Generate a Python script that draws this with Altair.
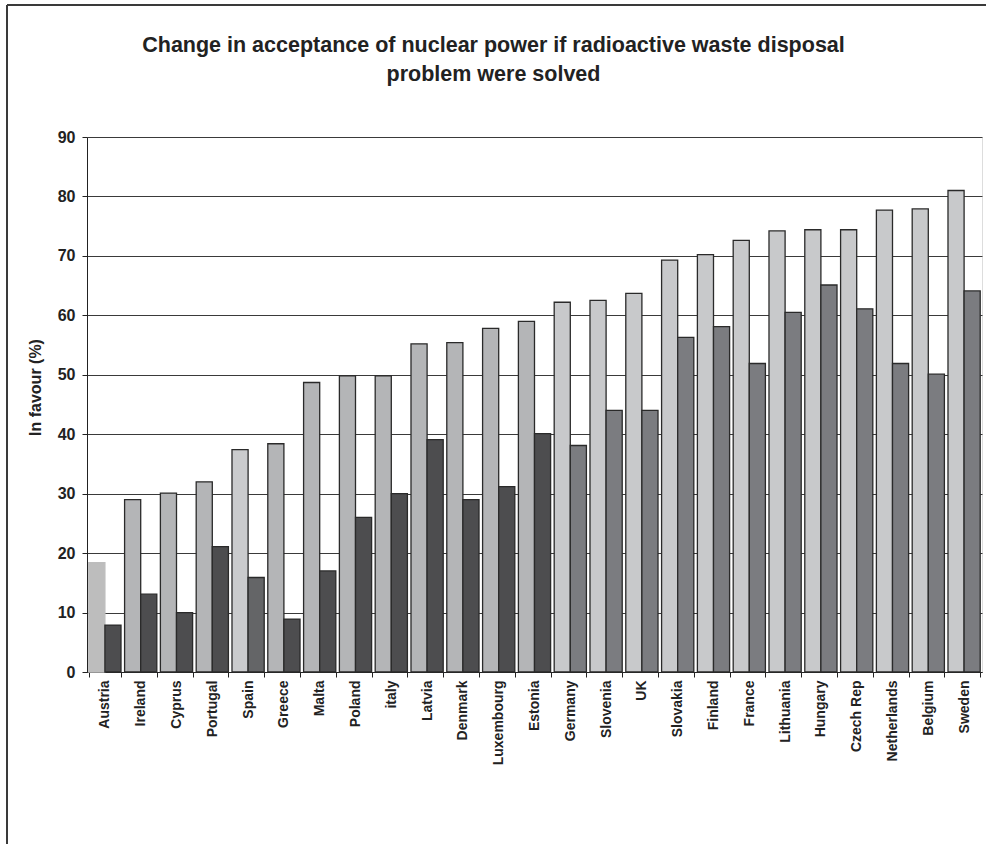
import altair as alt
import pandas as pd

# Countries, ordered by share in favour if the waste problem were solved
countries = [
    "Austria", "Ireland", "Cyprus", "Portugal", "Spain", "Greece", "Malta",
    "Poland", "italy", "Latvia", "Denmark", "Luxembourg", "Estonia",
    "Germany", "Slovenia", "UK", "Slovakia", "Finland", "France",
    "Lithuania", "Hungary", "Czech Rep", "Netherlands", "Belgium", "Sweden",
]
# % in favour if the radioactive waste disposal problem were solved
if_solved = [18.4, 29.0, 30.1, 32.0, 37.4, 38.4, 48.7, 49.8, 49.8, 55.2,
             55.4, 57.8, 59.0, 62.2, 62.5, 63.7, 69.3, 70.2, 72.6, 74.2,
             74.4, 74.4, 77.7, 77.9, 81.0]
# % in favour at present
currently = [7.9, 13.1, 10.0, 21.1, 15.9, 8.9, 17.0, 26.0, 30.0, 39.1,
             29.0, 31.2, 40.1, 38.1, 44.0, 44.0, 56.3, 58.1, 51.9, 60.5,
             65.1, 61.1, 51.9, 50.1, 64.1]

series = ["If solved", "Currently"]

# Shading per country group: (light bar, dark bar, light outline)
group_of = {c: "A" for c in countries}
group_of["Austria"] = "B"
group_of["Spain"] = "C"
for c in countries[13:]:
    group_of[c] = "D"
shades = {
    "A": ("#b4b5b7", "#4d4d4f", "#2a2a2a"),
    "B": ("#bdbdbd", "#4d4d4f", "#bdbdbd"),
    "C": ("#cacbcd", "#646567", "#2a2a2a"),
    "D": ("#c8c9cb", "#7b7c80", "#2a2a2a"),
}

rows = []
for c, a, b in zip(countries, if_solved, currently):
    light, dark, edge = shades[group_of[c]]
    rows.append({"country": c, "series": series[0], "value": a,
                 "fill": light, "edge": edge})
    rows.append({"country": c, "series": series[1], "value": b,
                 "fill": dark, "edge": "#2a2a2a"})
df = pd.DataFrame(rows)

FONT = "Liberation Sans"

bars = alt.Chart(df).mark_bar(strokeWidth=1.3).encode(
    x=alt.X("country:N", sort=countries,
            scale=alt.Scale(paddingInner=0.1, paddingOuter=0.05),
            axis=alt.Axis(title=None, labelAngle=-90, labelFontSize=14,
                          labelFont=FONT, labelFontWeight="bold",
                          labelColor="#222", labelPadding=3,
                          tickBand="extent", tickSize=5, tickColor="#222",
                          domainColor="#222", grid=False)),
    xOffset=alt.XOffset("series:N", sort=series,
                        scale=alt.Scale(paddingInner=0, paddingOuter=0)),
    y=alt.Y("value:Q",
            scale=alt.Scale(domain=[0, 90], nice=False),
            axis=alt.Axis(title="In favour (%)", values=list(range(0, 91, 10)),
                          titleFont=FONT, titleFontSize=16,
                          titleFontWeight="bold", titleColor="#222",
                          titleAngle=-90, titleX=-52, titleY=250,
                          titleAlign="center", titleBaseline="middle",
                          labelFont=FONT, labelFontSize=16,
                          labelFontWeight="bold", labelColor="#222",
                          labelPadding=7, tickSize=5, tickColor="#222",
                          domainColor="#222", gridColor="#3a3a3a",
                          gridWidth=1)),
    fill=alt.Fill("fill:N", scale=None, legend=None),
    stroke=alt.Stroke("edge:N", scale=None, legend=None),
)

# Outer frame of the figure (left and top edges)
frame_left = alt.Chart(df).mark_rule(color="#3a3a3a", strokeWidth=2).encode(
    x=alt.value(-80), y=alt.value(-132), y2=alt.value(720))
frame_top = alt.Chart(df).mark_rule(color="#3a3a3a", strokeWidth=2).encode(
    x=alt.value(-80), x2=alt.value(910), y=alt.value(-132))

chart = alt.layer(bars, frame_left, frame_top).properties(
    width=895,
    height=535,
    padding={"left": 87, "top": 137, "right": 4, "bottom": 172},
    autosize=alt.AutoSizeParams(type="none"),
    title=alt.TitleParams(
        ["Change in acceptance of nuclear power if radioactive waste disposal",
         "problem were solved"],
        font=FONT, fontSize=21.5, fontWeight="bold", color="#222",
        anchor="middle", frame="group", offset=-81, dx=-41, lineHeight=29),
).configure_view(stroke="#9a9a9a", strokeWidth=1.5).configure(background="white")

chart.save("out.html", embed_options={"renderer": "svg", "actions": False})
